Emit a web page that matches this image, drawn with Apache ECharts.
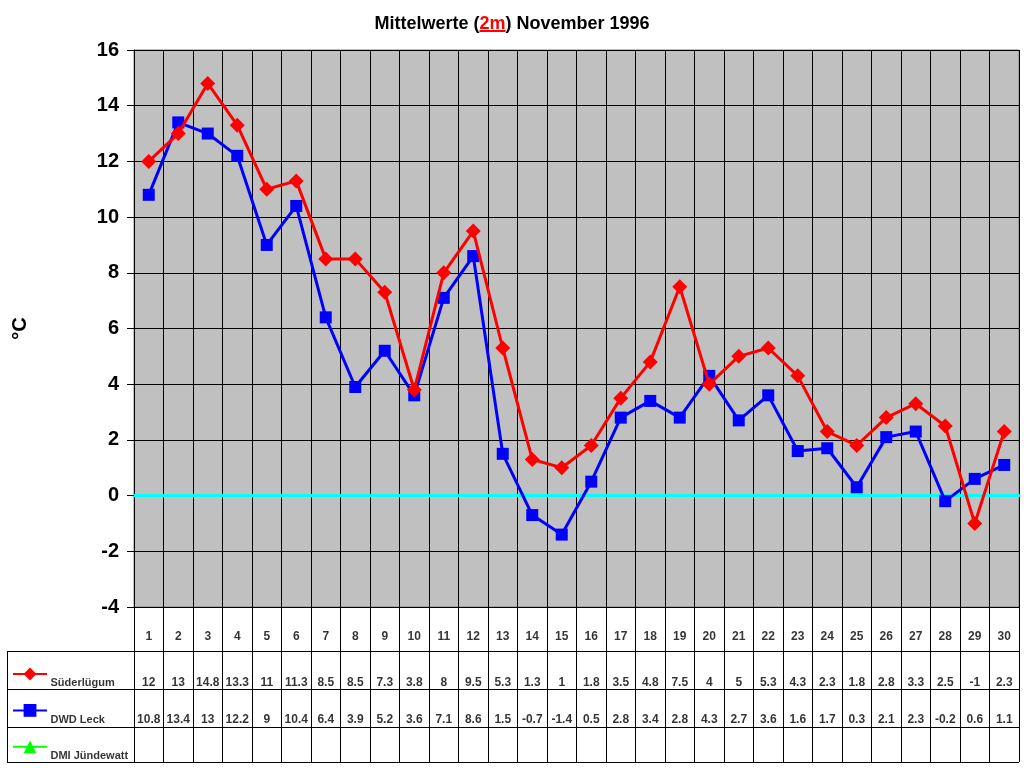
<!DOCTYPE html>
<html>
<head>
<meta charset="utf-8">
<script src="https://cdn.jsdelivr.net/npm/echarts@6/dist/echarts.min.js"></script>
<style>html,body{margin:0;padding:0;background:#fff}#c{width:1024px;height:768px}</style>
</head>
<body>
<div id="c"></div>
<script>
var days = [1,2,3,4,5,6,7,8,9,10,11,12,13,14,15,16,17,18,19,20,21,22,23,24,25,26,27,28,29,30];
var suederlugum = [12,13,14.8,13.3,11,11.3,8.5,8.5,7.3,3.8,8,9.5,5.3,1.3,1,1.8,3.5,4.8,7.5,4,5,5.3,4.3,2.3,1.8,2.8,3.3,2.5,-1,2.3];
var dwdLeck = [10.8,13.4,13,12.2,9,10.4,6.4,3.9,5.2,3.6,7.1,8.6,1.5,-0.7,-1.4,0.5,2.8,3.4,2.8,4.3,2.7,3.6,1.6,1.7,0.3,2.1,2.3,-0.2,0.6,1.1];
var dmiJuendewatt = days.map(function(){ return null; });
var seriesNames = ['Süderlügum','DWD Leck','DMI Jündewatt'];
var titleParts = ['Mittelwerte (', '2m', ') November 1996'];
var yTicks = {min:-4, max:16, interval:2};

var FONT = 'Arial, "Liberation Sans", sans-serif';
// layout constants (pixels)
var plotLeft = 134, plotRight = 5, plotTop = 50, plotBottomY = 607, tableLeft = 7, tableBottomY = 762;
var cellW = (1024 - plotLeft - plotRight) / days.length;
var tableH = tableBottomY - plotBottomY; // 155
var rowLines = [0, 35, 73, 111];
var rowText = {day: 125, s1: 79, s2: 42, s3: 6};
var xMinTable = -(plotLeft - tableLeft) / cellW;
var legendTextX = xMinTable + (50 - tableLeft) / cellW;
var titleFontSize = 18;

var textData = [];
days.forEach(function(d, i){
  textData.push([i + 0.5, rowText.day, String(d)]);
  textData.push([i + 0.5, rowText.s1, String(suederlugum[i])]);
  textData.push([i + 0.5, rowText.s2, String(dwdLeck[i])]);
});
var nameData = [
  [legendTextX, rowText.s1, seriesNames[0]],
  [legendTextX, rowText.s2, seriesNames[1]],
  [legendTextX, rowText.s3, seriesNames[2]]
];

var borderSegs = [];
rowLines.forEach(function(y){
  borderSegs.push([{coord:[xMinTable, y]}, {coord:[days.length, y]}]);
});
for (var k = 0; k <= days.length; k++) {
  borderSegs.push([{coord:[k, 0]}, {coord:[k, tableH]}]);
}
borderSegs.push([{coord:[xMinTable, 0]}, {coord:[xMinTable, rowLines[3]]}]);

// underline position for the red "2m" in the title
var cv = document.createElement('canvas').getContext('2d');
cv.font = 'bold ' + titleFontSize + 'px ' + FONT;
var wA = cv.measureText(titleParts[0]).width, wB = cv.measureText(titleParts[1]).width, wC = cv.measureText(titleParts[2]).width;
var titleStart = 512 - (wA + wB + wC) / 2;

var chart = echarts.init(document.getElementById('c'), null, {renderer:'canvas'});
chart.setOption({
  animation: false,
  backgroundColor: '#ffffff',
  title: {
    text: '{a|' + titleParts[0] + '}{b|' + titleParts[1] + '}{a|' + titleParts[2] + '}',
    left: 'center', top: 10,
    textStyle: {
      rich: {
        a: {fontFamily: FONT, fontSize: titleFontSize, fontWeight: 'bold', color: '#000'},
        b: {fontFamily: FONT, fontSize: titleFontSize, fontWeight: 'bold', color: '#ff0000'}
      }
    }
  },
  legend: {
    orient: 'vertical', left: 7, top: 661,
    itemWidth: 34, itemHeight: 16, itemGap: 22,
    data: seriesNames,
    selectedMode: false,
    formatter: function(){ return ''; },
    textStyle: {fontSize: 1}
  },
  grid: [
    {left: plotLeft, right: plotRight, top: plotTop, bottom: 768 - plotBottomY,
     show: true, backgroundColor: '#c0c0c0', borderColor: '#808080', borderWidth: 1},
    {left: tableLeft, right: plotRight, top: plotBottomY, bottom: 768 - tableBottomY, show: false}
  ],
  xAxis: [
    {type: 'category', gridIndex: 0, data: days, boundaryGap: true,
     axisLine: {show: true, onZero: true, lineStyle: {color: '#00ffff', width: 3}},
     axisTick: {show: false}, axisLabel: {show: false},
     splitLine: {show: true, lineStyle: {color: '#000', width: 1}}},
    {type: 'value', gridIndex: 1, min: xMinTable, max: days.length, show: false}
  ],
  yAxis: [
    {type: 'value', gridIndex: 0, min: yTicks.min, max: yTicks.max, interval: yTicks.interval,
     name: '°C', nameLocation: 'middle', nameRotate: 90, nameGap: 104,
     nameTextStyle: {fontFamily: FONT, fontSize: 20, fontWeight: 'bold', color: '#000'},
     axisLine: {show: true, lineStyle: {color: '#000', width: 1}},
     axisTick: {show: true, length: 7, lineStyle: {color: '#000'}},
     axisLabel: {fontFamily: FONT, fontSize: 20, fontWeight: 'bold', color: '#000', margin: 15},
     splitLine: {show: true, lineStyle: {color: '#000', width: 1}}},
    {type: 'value', gridIndex: 1, min: 0, max: tableH, show: false}
  ],
  series: [
    {name: seriesNames[0], type: 'line', data: suederlugum, symbol: 'diamond', symbolSize: 15,
     itemStyle: {color: '#ff0000'}, lineStyle: {color: '#ff0000', width: 3}, z: 4},
    {name: seriesNames[1], type: 'line', data: dwdLeck, symbol: 'rect', symbolSize: 12,
     itemStyle: {color: '#0000ff'}, lineStyle: {color: '#0000ff', width: 3}, z: 3},
    {name: seriesNames[2], type: 'line', data: dmiJuendewatt, symbol: 'triangle', symbolSize: 14,
     itemStyle: {color: '#00ff00'}, lineStyle: {color: '#00ff00', width: 3}, z: 3},
    {type: 'scatter', xAxisIndex: 1, yAxisIndex: 1, data: textData, symbolSize: 1,
     silent: true, itemStyle: {color: 'rgba(0,0,0,0)'},
     label: {show: true, position: 'inside', formatter: function(p){ return p.value[2]; },
             fontFamily: FONT, fontSize: 12, fontWeight: 'bold', color: '#000'},
     markLine: {silent: true, symbol: ['none','none'], label: {show: false},
                lineStyle: {color: '#000', width: 1, type: 'solid'}, data: borderSegs}},
    {type: 'scatter', xAxisIndex: 1, yAxisIndex: 1, data: nameData, symbolSize: 1,
     silent: true, itemStyle: {color: 'rgba(0,0,0,0)'},
     label: {show: true, position: 'right', distance: 0, formatter: function(p){ return p.value[2]; },
             fontFamily: FONT, fontSize: 11, fontWeight: 'bold', color: '#000'}}
  ],
  graphic: [
    {type: 'rect', shape: {x: titleStart + wA, y: 30, width: wB, height: 2}, style: {fill: '#ff0000'}}
  ]
});
</script>
</body>
</html>
